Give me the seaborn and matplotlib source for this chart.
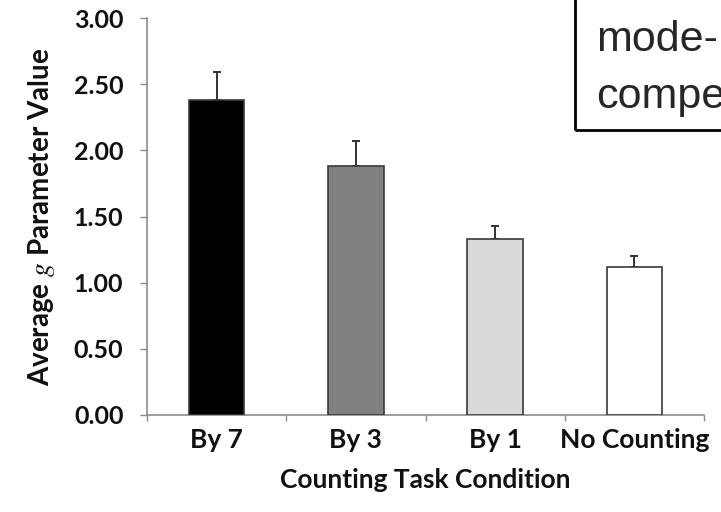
import matplotlib
matplotlib.use("Agg")
import matplotlib.pyplot as plt
import seaborn as sns
import pandas as pd
from matplotlib.patches import Rectangle

# Data
conditions = ["By 7", "By 3", "By 1", "No Counting"]
mean_g = [2.38, 1.88, 1.33, 1.12]
err_upper = [0.21, 0.19, 0.10, 0.08]
bar_colors = ["#000000", "#808080", "#d9d9d9", "#ffffff"]
y_ticks = [0.0, 0.5, 1.0, 1.5, 2.0, 2.5, 3.0]

sns.set_theme(style="white")
plt.rcParams["font.family"] = ["Lato", "DejaVu Sans"]
plt.rcParams["mathtext.fontset"] = "stix"

df = pd.DataFrame({"condition": conditions, "mean": mean_g})

fig = plt.figure(figsize=(7.21, 5.12), dpi=100)
ax = fig.add_axes([147 / 721, 1 - 415 / 512, (704 - 147) / 721, (415 - 18) / 512])

sns.barplot(data=df, x="condition", y="mean", hue="condition",
            palette=bar_colors, width=0.4, edgecolor="#3a3a3a",
            linewidth=1.2, legend=False, ax=ax, zorder=3)

# upper error bars only
ax.errorbar(range(len(conditions)), mean_g,
            yerr=[[0] * len(err_upper), err_upper],
            fmt="none", ecolor="#333333", elinewidth=1.4,
            capsize=3, capthick=1.4, zorder=2)

ax.set_xlim(-0.5, len(conditions) - 0.5)
ax.set_ylim(0, 3.0)
ax.set_yticks(y_ticks)
ax.set_yticklabels([f"{v:.2f}" for v in y_ticks])

# category boundaries carry the tick marks; labels sit under the bars
ax.set_xticks(range(len(conditions)))
ax.set_xticklabels(conditions)
ax.set_xticks([i - 0.5 for i in range(len(conditions) + 1)], minor=True)
ax.tick_params(axis="x", which="major", length=0, pad=9,
               labelsize=19, labelcolor="#111111")
ax.tick_params(axis="x", which="minor", length=4, width=1.0,
               color="#8c8c8c", direction="out", bottom=True)
ax.tick_params(axis="y", length=5, width=1.0, color="#8c8c8c",
               direction="out", left=True, pad=12,
               labelsize=18, labelcolor="#111111")
for lab in ax.get_xticklabels() + ax.get_yticklabels():
    lab.set_fontweight("bold")

for side in ["top", "right"]:
    ax.spines[side].set_visible(False)
for side in ["left", "bottom"]:
    ax.spines[side].set_color("#8c8c8c")
    ax.spines[side].set_linewidth(1.2)

ax.set_xlabel("Counting Task Condition", fontsize=19, fontweight="bold",
              color="#111111", labelpad=12)
ax.set_ylabel("Average $g$ Parameter Value", fontsize=20, fontweight="bold",
              color="#111111", labelpad=12)

# annotation box running off the top-right corner
fig.patches.append(Rectangle((575 / 721, 1 - 130 / 512), 0.3, 0.5,
                             transform=fig.transFigure, fill=False,
                             edgecolor="black", linewidth=2.0))
fig.text(596 / 721, 1 - 51 / 512, "mode-", fontsize=31,
         family="Liberation Sans", va="baseline", ha="left")
fig.text(596 / 721, 1 - 108 / 512, "compe", fontsize=31,
         family="Liberation Sans", va="baseline", ha="left")

fig.savefig("out.png", dpi=100)
